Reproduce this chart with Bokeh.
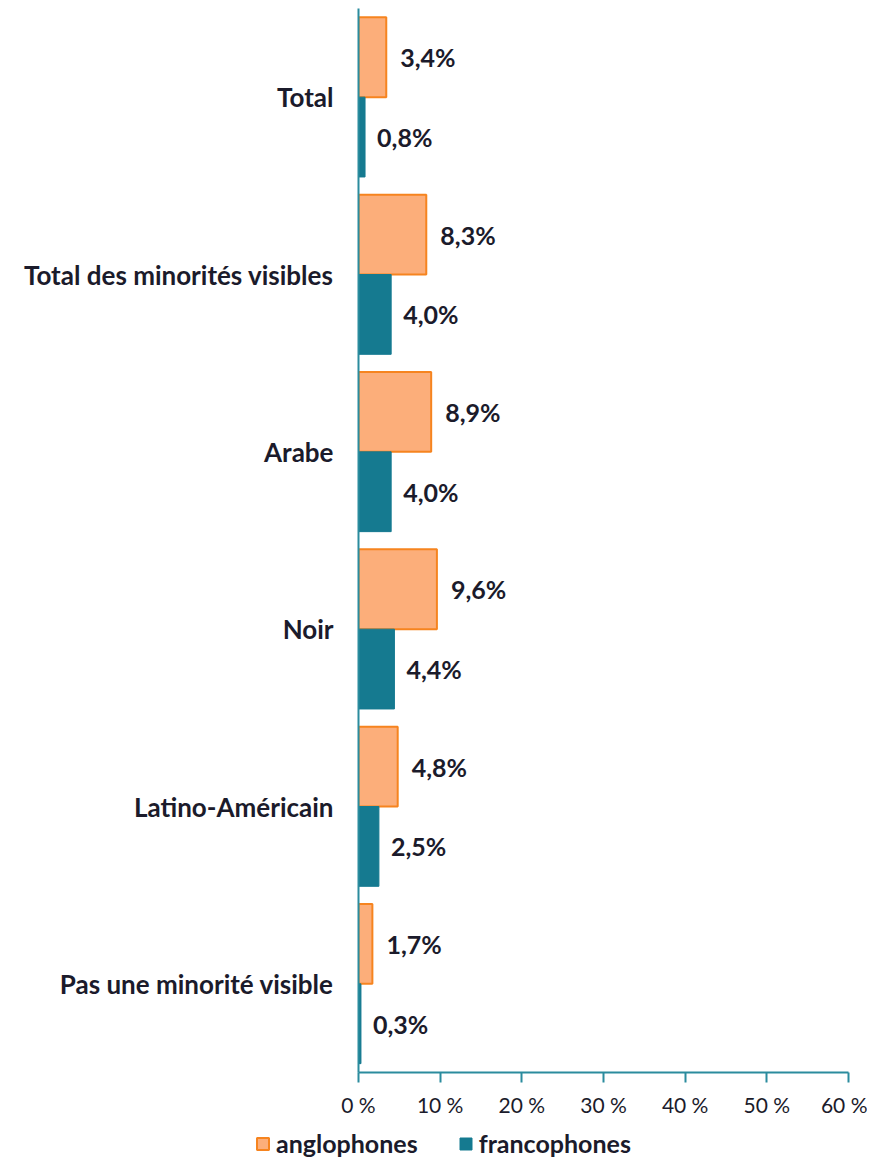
from bokeh.plotting import figure
from bokeh.models import FactorRange, Range1d, FixedTicker, Legend, LegendItem, ColumnDataSource
from bokeh.transform import dodge
from bokeh.core.properties import value
from bokeh.embed import file_html
from bokeh.resources import INLINE

categories = ["Total", "Total des minorités visibles", "Arabe", "Noir",
              "Latino-Américain", "Pas une minorité visible"]
anglophones = [3.4, 8.3, 8.9, 9.6, 4.8, 1.7]
francophones = [0.8, 4.0, 4.0, 4.4, 2.5, 0.3]
anglo_labels = ["3,4%", "8,3%", "8,9%", "9,6%", "4,8%", "1,7%"]
franco_labels = ["0,8%", "4,0%", "4,0%", "4,4%", "2,5%", "0,3%"]
x_ticks = [0, 10, 20, 30, 40, 50, 60]
x_tick_labels = ["0 %", "10 %", "20 %", "30 %", "40 %", "50 %", "60 %"]
series_names = ["anglophones", "francophones"]

ORANGE_FILL = "#FCAE7A"
ORANGE_LINE = "#F6841F"
TEAL = "#157A90"
AXIS = "#2B8C9E"
TEXT = "#1B1B2B"
FONT = "Lato"

src = ColumnDataSource(dict(cat=categories, ang=anglophones, fra=francophones,
                            al=anglo_labels, fl=franco_labels))

W = 867
p = figure(width=W, height=1120, output_backend="svg", toolbar_location=None,
           y_range=FactorRange(*reversed(categories), range_padding=0),
           x_range=Range1d(0, 60))
p.min_border_left = 358
p.min_border_right = 19
p.min_border_top = 8
p.min_border_bottom = 48
p.outline_line_color = None
p.xgrid.visible = False
p.ygrid.visible = False
p.background_fill_color = "white"
p.border_fill_color = "white"

bar_a = dict(fill_color=ORANGE_FILL, line_color=ORANGE_LINE, line_width=2)
bar_f = dict(fill_color=TEAL, line_color=TEAL, line_width=1)

p.hbar(y=dodge("cat", 0.225, range=p.y_range), right="ang", left=0, height=0.45,
       source=src, **bar_a)
p.hbar(y=dodge("cat", -0.225, range=p.y_range), right="fra", left=0, height=0.45,
       source=src, **bar_f)

p.text(x="ang", y=dodge("cat", 0.225, range=p.y_range), text="al", x_offset=14,
       text_baseline="middle", text_align="left", text_font=value(FONT),
       text_font_style="bold", text_font_size="25px", text_color=TEXT, source=src)
p.text(x="fra", y=dodge("cat", -0.225, range=p.y_range), text="fl", x_offset=12,
       text_baseline="middle", text_align="left", text_font=value(FONT),
       text_font_style="bold", text_font_size="25px", text_color=TEXT, source=src)

# x axis
xa = p.xaxis[0]
xa.ticker = FixedTicker(ticks=x_ticks)
xa.major_label_overrides = {t: l for t, l in zip(x_ticks, x_tick_labels)}
xa.axis_line_color = AXIS
xa.axis_line_width = 2
xa.major_tick_line_color = AXIS
xa.major_tick_line_width = 2
xa.major_tick_out = 10
xa.major_tick_in = 0
xa.minor_tick_line_color = None
xa.major_label_text_font = FONT
xa.major_label_text_font_size = "21px"
xa.major_label_text_color = TEXT
xa.major_label_standoff = 9

# y axis
ya = p.yaxis[0]
ya.axis_line_color = AXIS
ya.axis_line_width = 2
ya.major_tick_line_color = None
ya.minor_tick_line_color = None
ya.major_label_text_font = FONT
ya.major_label_text_font_style = "bold"
ya.major_label_text_font_size = "26px"
ya.major_label_text_color = TEXT
ya.major_label_standoff = 19

# legend strip (separate root so its frame spans the full width)
lg = figure(width=W, height=39, output_backend="svg", toolbar_location=None,
            x_range=Range1d(0, 1), y_range=Range1d(0, 1))
lg.min_border_left = 0
lg.min_border_right = 0
lg.min_border_top = 0
lg.min_border_bottom = 0
lg.axis.visible = False
lg.grid.visible = False
lg.outline_line_color = None
lg.background_fill_color = "white"
lg.border_fill_color = "white"
dummy = ColumnDataSource(dict(y=[0.5], r=[0.5]))
la = lg.hbar(y="y", right="r", left=0, height=0.5, source=dummy, visible=False, **bar_a)
lf = lg.hbar(y="y", right="r", left=0, height=0.5, source=dummy, visible=False, **bar_f)

legend = Legend(items=[LegendItem(label=series_names[0], renderers=[la]),
                       LegendItem(label=series_names[1], renderers=[lf])],
                orientation="horizontal", location=(255, 1),
                border_line_color=None, background_fill_alpha=0,
                inactive_fill_alpha=0,
                label_text_font=FONT, label_text_font_style="bold",
                label_text_font_size="25px", label_text_color=TEXT,
                glyph_width=15, glyph_height=15, spacing=40, label_standoff=6,
                padding=0, margin=0)
lg.add_layout(legend, "center")

open("out.html", "w").write(file_html([p, lg], INLINE))
